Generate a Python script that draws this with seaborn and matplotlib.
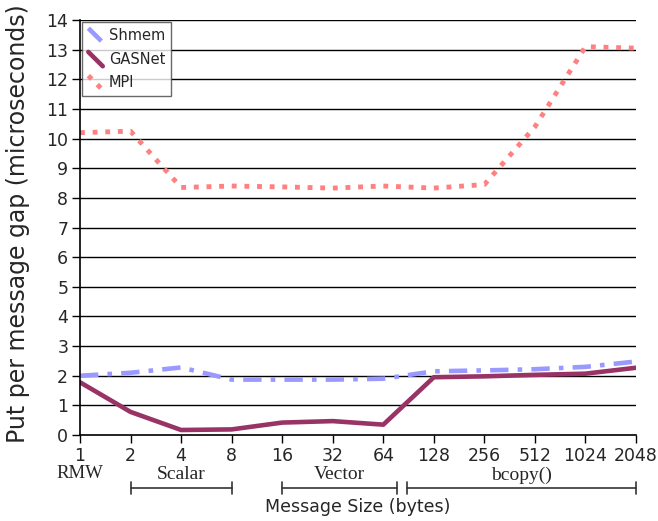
import numpy as np
import pandas as pd
import matplotlib
matplotlib.use("Agg")
import matplotlib.pyplot as plt
import matplotlib.transforms as mtransforms
from matplotlib.legend_handler import HandlerLine2D
from matplotlib.lines import Line2D
import seaborn as sns

# message sizes (bytes) and gaps (microseconds)
sizes = ["1", "2", "4", "8", "16", "32", "64", "128", "256", "512", "1024", "2048"]
shmem = [2.0, 2.1, 2.28, 1.87, 1.87, 1.87, 1.9, 2.15, 2.18, 2.22, 2.3, 2.48]
gasnet = [1.78, 0.78, 0.17, 0.19, 0.42, 0.47, 0.35, 1.95, 1.98, 2.03, 2.07, 2.27]
mpi = [10.2, 10.25, 8.35, 8.4, 8.37, 8.33, 8.4, 8.33, 8.45, 10.4, 13.1, 13.05]

groups = ["Scalar", "Vector", "bcopy()"]
group_spans = [(1, 3), (4, 6.28), (6.47, 11)]

df = pd.DataFrame({
    "pos": list(range(len(sizes))) * 3,
    "gap": shmem + gasnet + mpi,
    "series": ["Shmem"] * 12 + ["GASNet"] * 12 + ["MPI"] * 12,
})

sns.set_style("white")
plt.rcParams["font.family"] = ["DejaVu Sans"]

fig = plt.figure(figsize=(6.58, 5.21), dpi=100)
ax = fig.add_axes([0.1216, 0.165, 0.845, 0.7966])

for y in range(1, 15):
    ax.axhline(y, color="black", lw=1.0, zorder=0)

styles = {
    "Shmem": dict(color="#9999FF", ls=(0, (4, 2, 1, 2)), lw=3.3),
    "GASNet": dict(color="#993366", ls="-", lw=3.3),
    "MPI": dict(color="#FF8080", ls=(0, (1, 1.6)), lw=3.5),
}
for name in ["Shmem", "GASNet", "MPI"]:
    sub = df[df["series"] == name]
    sns.lineplot(data=sub, x="pos", y="gap", ax=ax, label=name, **styles[name])

ax.set_xlim(0, 11)
ax.set_ylim(0, 14)
ax.set_yticks(range(0, 15))
ax.set_xticks(range(len(sizes)))
ax.set_xticklabels(sizes)
ax.tick_params(axis="both", labelsize=12.5, length=6, width=1, direction="out",
               bottom=True, left=True, color="black", pad=2.5)
for s in ["top", "right"]:
    ax.spines[s].set_visible(False)
for s in ["left", "bottom"]:
    ax.spines[s].set_color("black")
    ax.spines[s].set_linewidth(1.2)

ax.set_ylabel("Put per message gap (microseconds)", fontsize=17)
ax.yaxis.set_label_coords(-0.09, 0.51)
ax.set_xlabel("Message Size (bytes)", fontsize=12.5, labelpad=24)

# group brackets below the axis
trans = mtransforms.blended_transform_factory(ax.transData, ax.transAxes)
ax.text(0, -0.092, "RMW", transform=trans, ha="center", va="center",
        fontsize=13.5, family="Liberation Serif")
for label, (x0, x1) in zip(groups, group_spans):
    yb = -0.128
    ax.plot([x0, x1], [yb, yb], color="#333333", lw=1.2, transform=trans, clip_on=False)
    for xe in (x0, x1):
        ax.plot([xe, xe], [yb - 0.015, yb + 0.015], color="#333333", lw=1.2,
                transform=trans, clip_on=False)
    ax.text((x0 + x1) / 2, -0.096, label, transform=trans, ha="center", va="center",
            fontsize=14, family="Liberation Serif")


class DiagHandler(HandlerLine2D):
    def create_artists(self, legend, orig_handle, xdescent, ydescent, width, height,
                       fontsize, trans):
        line = Line2D([0.05 * width, 0.95 * width], [height * 1.15, -0.25 * height])
        self.update_prop(line, orig_handle, legend)
        line.set_transform(trans)
        return [line]


handles, labels = ax.get_legend_handles_labels()
leg = ax.legend(handles, labels, loc="upper left", bbox_to_anchor=(0.003, 0.995),
                fontsize=10.5, frameon=True, fancybox=False, edgecolor="#444444",
                handlelength=1.1, handletextpad=0.35, borderpad=0.4, labelspacing=0.6,
                borderaxespad=0.0, handler_map={Line2D: DiagHandler()})
leg.get_frame().set_linewidth(1.0)

fig.savefig("out.png", dpi=100)
